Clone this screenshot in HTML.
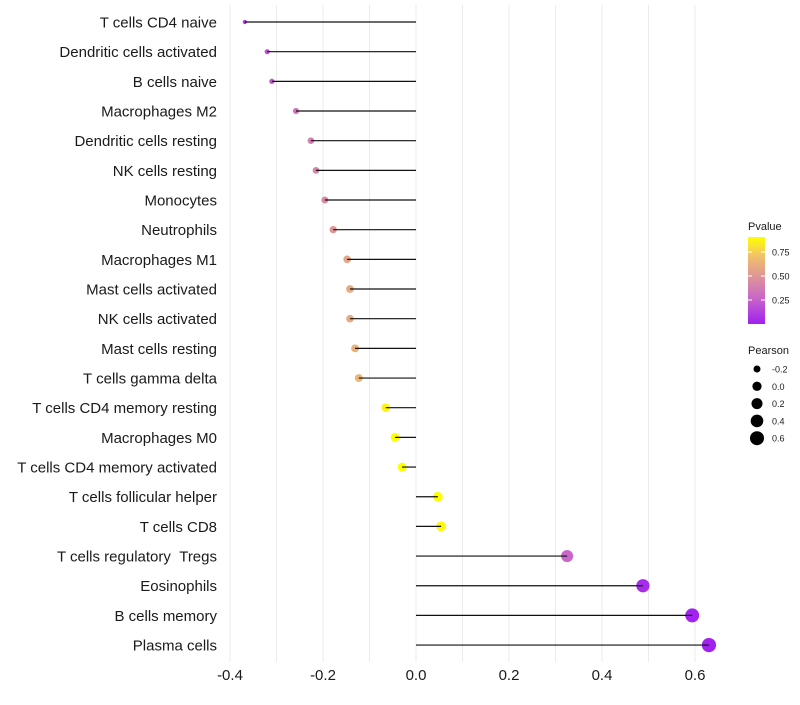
<!DOCTYPE html>
<html><head><meta charset="utf-8"><style>
body{margin:0;background:#fff;font-family:"Liberation Sans",sans-serif}
svg text{font-family:"Liberation Sans",sans-serif}
</style></head><body>
<svg id="chart" width="800" height="700" viewBox="0 0 800 700">
<g id="grid"></g>
<g id="marks"></g>
<g id="ylabels"></g>
<g id="xlabels"></g>
<g id="legend"></g>
</svg>
<script>
const categories=["T cells CD4 naive","Dendritic cells activated","B cells naive","Macrophages M2","Dendritic cells resting","NK cells resting","Monocytes","Neutrophils","Macrophages M1","Mast cells activated","NK cells activated","Mast cells resting","T cells gamma delta","T cells CD4 memory resting","Macrophages M0","T cells CD4 memory activated","T cells follicular helper","T cells CD8","T cells regulatory\u00a0\u00a0Tregs","Eosinophils","B cells memory","Plasma cells"];
const pearson=[-0.368,-0.320,-0.310,-0.258,-0.226,-0.215,-0.196,-0.178,-0.148,-0.142,-0.142,-0.131,-0.123,-0.065,-0.045,-0.030,0.047,0.054,0.325,0.488,0.594,0.630];
const pvalue=[0.08,0.2,0.22,0.32,0.38,0.4,0.44,0.5,0.58,0.6,0.6,0.63,0.66,0.87,0.9,0.92,0.9,0.88,0.27,0.05,0.01,0.003];
const xTicks=[-0.4,-0.2,0.0,0.2,0.4,0.6];
const xMinor=[-0.3,-0.1,0.1,0.3,0.5];
const pTicks=[0.25,0.50,0.75];
const sizeTicks=[-0.2,0.0,0.2,0.4,0.6];
const NS="http://www.w3.org/2000/svg";
function mk(tag,attrs,parent){const e=document.createElementNS(NS,tag);for(const k in attrs)e.setAttribute(k,attrs[k]);parent.appendChild(e);return e;}
const x=v=>416+v*465;
const y=i=>22+i*29.67;
const rad=v=>Math.sqrt(Math.max(2,21.4+46*v));
const stops=[[0,[160,32,240]],[0.3,[205,110,195]],[0.5,[222,150,150]],[0.7,[240,190,110]],[0.9,[255,255,0]]];
function col(p){p=Math.max(0,Math.min(0.9,p));for(let i=1;i<stops.length;i++){if(p<=stops[i][0]){const a=stops[i-1],b=stops[i],t=(p-a[0])/(b[0]-a[0]);const c=a[1].map((v,k)=>Math.round(v+(b[1][k]-v)*t));return `rgb(${c})`;}}return "rgb(255,255,0)";}
const grid=document.getElementById('grid');
xTicks.concat(xMinor).forEach(t=>{const l=mk('line',{x1:x(t),x2:x(t),y1:5,y2:662,stroke:'#ebebeb','stroke-width':1},grid);

});
const marks=document.getElementById('marks');
categories.forEach((c,i)=>{
 const d=mk('circle',{cx:x(pearson[i]),cy:y(i),r:rad(pearson[i]),fill:col(pvalue[i])},marks);
 
 
 const l=mk('line',{x1:x(0),x2:x(pearson[i]),y1:y(i),y2:y(i),stroke:'#111','stroke-width':1.2},marks);
 
 
 const t=mk('text',{x:217,y:y(i)+5.5,'text-anchor':'end','font-size':15,fill:'#1a1a1a'},document.getElementById('ylabels'));
 t.textContent=c;
 
 
});
xTicks.forEach(t=>{const e=mk('text',{x:x(t),y:680,'text-anchor':'middle','font-size':15,fill:'#1a1a1a'},document.getElementById('xlabels'));
e.textContent=t.toFixed(1);

});
const lg=document.getElementById('legend');
let tt=mk('text',{x:748,y:230,'font-size':11,fill:'#1a1a1a'},lg);tt.textContent='Pvalue';


const defs=mk('defs',{},lg);const gr=mk('linearGradient',{id:'pg',x1:0,y1:1,x2:0,y2:0},defs);
for(let k=0;k<=10;k++){const p=k/10*0.906;mk('stop',{offset:k/10,'stop-color':col(p)},gr);}
const bar=mk('rect',{x:748,y:237,width:17,height:87,fill:'url(#pg)'},lg);


pTicks.forEach(p=>{const yy=324-p*96;mk('line',{x1:748,x2:752,y1:yy,y2:yy,stroke:'#fff'},lg);mk('line',{x1:761,x2:765,y1:yy,y2:yy,stroke:'#fff'},lg);
const e=mk('text',{x:772,y:yy+3.5,'font-size':9,fill:'#1a1a1a'},lg);e.textContent=p.toFixed(2);

});
tt=mk('text',{x:748,y:354,'font-size':11,fill:'#1a1a1a'},lg);tt.textContent='Pearson';


sizeTicks.forEach((s,k)=>{const yy=369+k*17.3;const c=mk('circle',{cx:757,cy:yy,r:rad(s),fill:'#000'},lg);


const e=mk('text',{x:772,y:yy+3.5,'font-size':9,fill:'#1a1a1a'},lg);e.textContent=s.toFixed(1);

});
</script>
</body></html>
